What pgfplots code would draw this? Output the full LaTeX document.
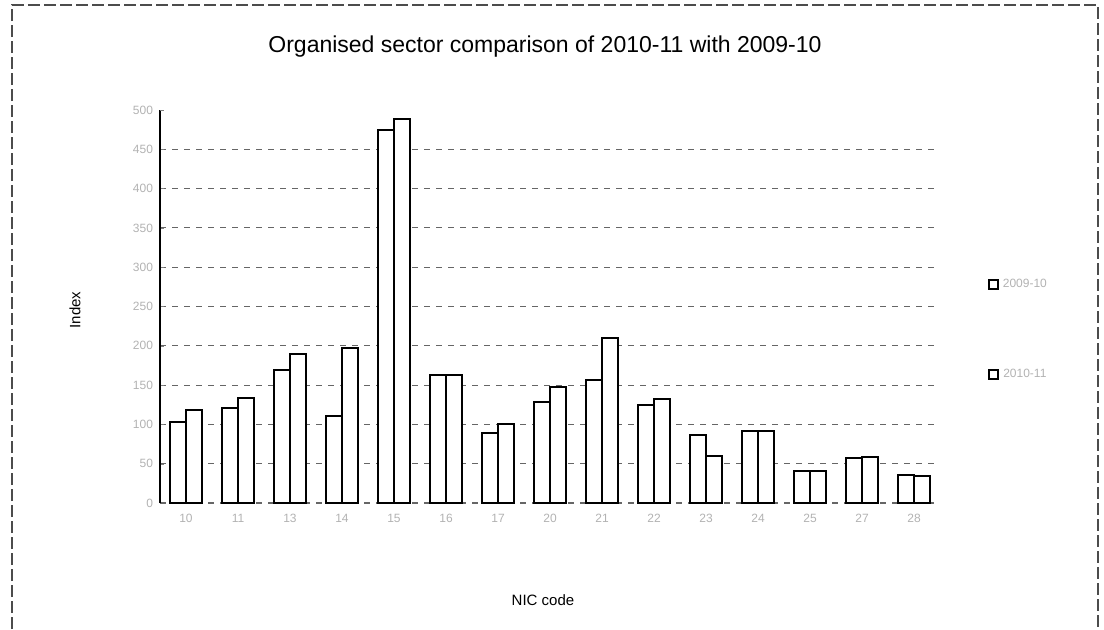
\documentclass[border=0pt]{standalone}
\usepackage{pgfplots}
\pgfplotsset{compat=1.18}
\usepackage{fontspec}
\setmainfont{Liberation Sans}
\begin{document}
\begin{tikzpicture}
\path[use as bounding box] (0pt,0pt) rectangle (552pt,314.5pt);
\draw[black!70, dash pattern=on 6pt off 2pt, line width=0.6pt] (6pt,0pt) -- (6pt,312pt) -- (549pt,312pt) -- (549pt,0pt);
\node[font=\fontsize{11.5}{13}\selectfont] at (272.5pt,291pt) {Organised sector comparison of 2010-11 with 2009-10};
\node[rotate=90, font=\fontsize{7.5}{9}\selectfont] at (37.5pt,159.5pt) {Index};
\node[font=\fontsize{7.5}{9}\selectfont] at (271.5pt,14.5pt) {NIC code};
\begin{axis}[
  at={(80pt,63pt)}, anchor=south west,
  scale only axis, width=390pt, height=196.5pt,
  ybar=0pt, bar width=8pt,
  xmin=-0.5, xmax=14.5, ymin=0, ymax=500,
  xtick=data,
  xticklabels={10,11,13,14,15,16,17,20,21,22,23,24,25,27,28},
  ytick={0,50,...,450},
  extra y ticks={500}, extra y tick style={grid=none},
  ymajorgrids, grid style={black!60, dash pattern=on 3pt off 3pt, line width=0.5pt},
  axis lines*=left,
  axis line style={line width=0.8pt},
  x axis line style={black!60, dash pattern=on 3pt off 3pt},
  major tick length=2pt,
  xtick style={draw=none},
  tick label style={font=\fontsize{6}{7}\selectfont, text=black!30},
  /pgf/number format/assume math mode=true,
  legend style={at={(1.053,0.592)}, anchor=north west, draw=none, fill=none,
    font=\fontsize{6}{7}\selectfont, text=black!30, row sep=35.5pt},
  legend image code/.code={\draw[line width=1pt, fill=white] (0cm,-0.08cm) rectangle (0.16cm,0.08cm);},
]
\addplot[draw=black, fill=white, line width=1pt] coordinates {
(0,103) (1,121) (2,169) (3,111) (4,475) (5,163) (6,89) (7,128) (8,157) (9,125) (10,87) (11,92) (12,41) (13,57) (14,36)};
\addplot[draw=black, fill=white, line width=1pt] coordinates {
(0,118) (1,134) (2,190) (3,197) (4,489) (5,163) (6,100) (7,148) (8,210) (9,132) (10,60) (11,92) (12,41) (13,59) (14,34)};
\legend{2009-10,2010-11}
\end{axis}
\end{tikzpicture}
\end{document}
